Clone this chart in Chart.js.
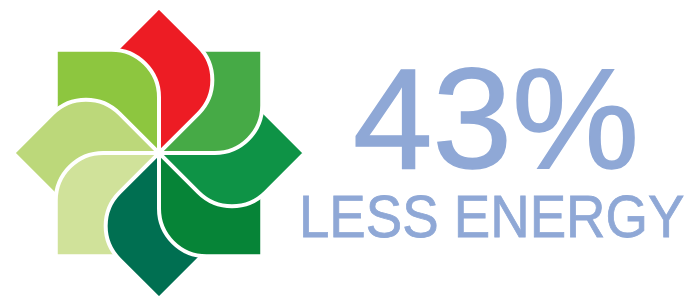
<!DOCTYPE html>
<html>
<head>
<meta charset="utf-8">
<script src="https://cdn.jsdelivr.net/npm/chart.js@4.4.0/dist/chart.umd.min.js"></script>
<style>
body{margin:0;width:694px;height:297px;background:#fff;overflow:hidden;position:relative;font-family:"Liberation Sans",Arial,sans-serif;}
#caixaGrafico{position:absolute;left:13px;top:7px;width:292px;height:292px;}
.texto{position:absolute;color:#8FA8D6;line-height:1;white-space:nowrap;-webkit-text-stroke-color:#8FA8D6;}
#percentagem{left:353px;top:47px;font-size:143px;-webkit-text-stroke-width:1.5px;}
#legenda{left:299px;top:187px;font-size:60px;transform:scaleX(0.91);transform-origin:0 0;-webkit-text-stroke-width:0.8px;}
</style>
</head>
<body>
<div id="caixaGrafico"><canvas id="grafico" width="292" height="292"></canvas></div>
<div class="texto" id="percentagem">43%</div>
<div class="texto" id="legenda">LESS ENERGY</div>
<script>
const petalas = ["Norte","Nordeste","Este","Sudeste","Sul","Sudoeste","Oeste","Noroeste"];
const valores = [1,1,1,1,1,1,1,1];
const cores = ["#ED1C24","#46AA46","#0E9346","#068437","#006F51","#D0E29A","#BCD87A","#8DC63F"];

function ponto(cx, cy, ang, dist){
    return {x: cx + Math.cos(ang)*dist, y: cy + Math.sin(ang)*dist};
}

function caminhoPetala(ctx, arco){
    let a = (arco.startAngle + arco.endAngle)/2;
    let L = arco.outerRadius;
    let s = L/Math.SQRT2;
    let raio = s*0.46;
    let ponta = ponto(arco.x, arco.y, a, L);
    let cantoA = ponto(arco.x, arco.y, a - Math.PI/4, s);
    let cantoH = ponto(arco.x, arco.y, a + Math.PI/4, s);
    ctx.beginPath();
    ctx.moveTo(arco.x, arco.y);
    ctx.lineTo(cantoA.x, cantoA.y);
    ctx.lineTo(ponta.x, ponta.y);
    ctx.arcTo(cantoH.x, cantoH.y, arco.x, arco.y, raio);
    ctx.lineTo(arco.x, arco.y);
    ctx.closePath();
}

function pintaPetala(ctx, arco){
    caminhoPetala(ctx, arco);
    ctx.fillStyle = arco.options.backgroundColor;
    ctx.fill();
    ctx.stroke();
}

const pluginPetalas = {
    id: 'petalas',
    beforeDatasetsDraw(chart){
        let ctx = chart.ctx;
        let arcos = chart.getDatasetMeta(0).data;
        let n = arcos.length;
        ctx.save();
        ctx.strokeStyle = '#fff';
        ctx.lineWidth = 4;
        ctx.lineJoin = 'miter';

        let ordem = [0];
        for(let i = n-1; i >= 1; i--) ordem.push(i);
        ordem.forEach(i => pintaPetala(ctx, arcos[i]));

        // a primeira outra vez, so a metade do lado horario, por cima da seguinte
        let arco = arcos[0];
        let a = (arco.startAngle + arco.endAngle)/2;
        let L = arco.outerRadius*2;
        let p0 = ponto(arco.x, arco.y, a - Math.PI/2, ctx.lineWidth/2);
        let p1 = ponto(p0.x, p0.y, a, L);
        let p2 = ponto(p1.x, p1.y, a + Math.PI/2, L);
        let p3 = ponto(p0.x, p0.y, a + Math.PI/2, L);
        ctx.beginPath();
        ctx.moveTo(p0.x, p0.y);
        ctx.lineTo(p1.x, p1.y);
        ctx.lineTo(p2.x, p2.y);
        ctx.lineTo(p3.x, p3.y);
        ctx.closePath();
        ctx.clip();
        pintaPetala(ctx, arco);
        // o contorno da ultima volta a ficar por cima
        caminhoPetala(ctx, arcos[n-1]);
        ctx.stroke();

        ctx.restore();
        return false;
    }
};

new Chart(document.getElementById('grafico'), {
    type: 'pie',
    data: {
        labels: petalas,
        datasets: [{
            data: valores,
            backgroundColor: cores,
            borderWidth: 0
        }]
    },
    options: {
        responsive: false,
        animation: false,
        events: [],
        rotation: -22.5,
        layout: { padding: 0 },
        plugins: {
            legend: { display: false },
            tooltip: { enabled: false }
        }
    },
    plugins: [pluginPetalas]
});
</script>
</body>
</html>
